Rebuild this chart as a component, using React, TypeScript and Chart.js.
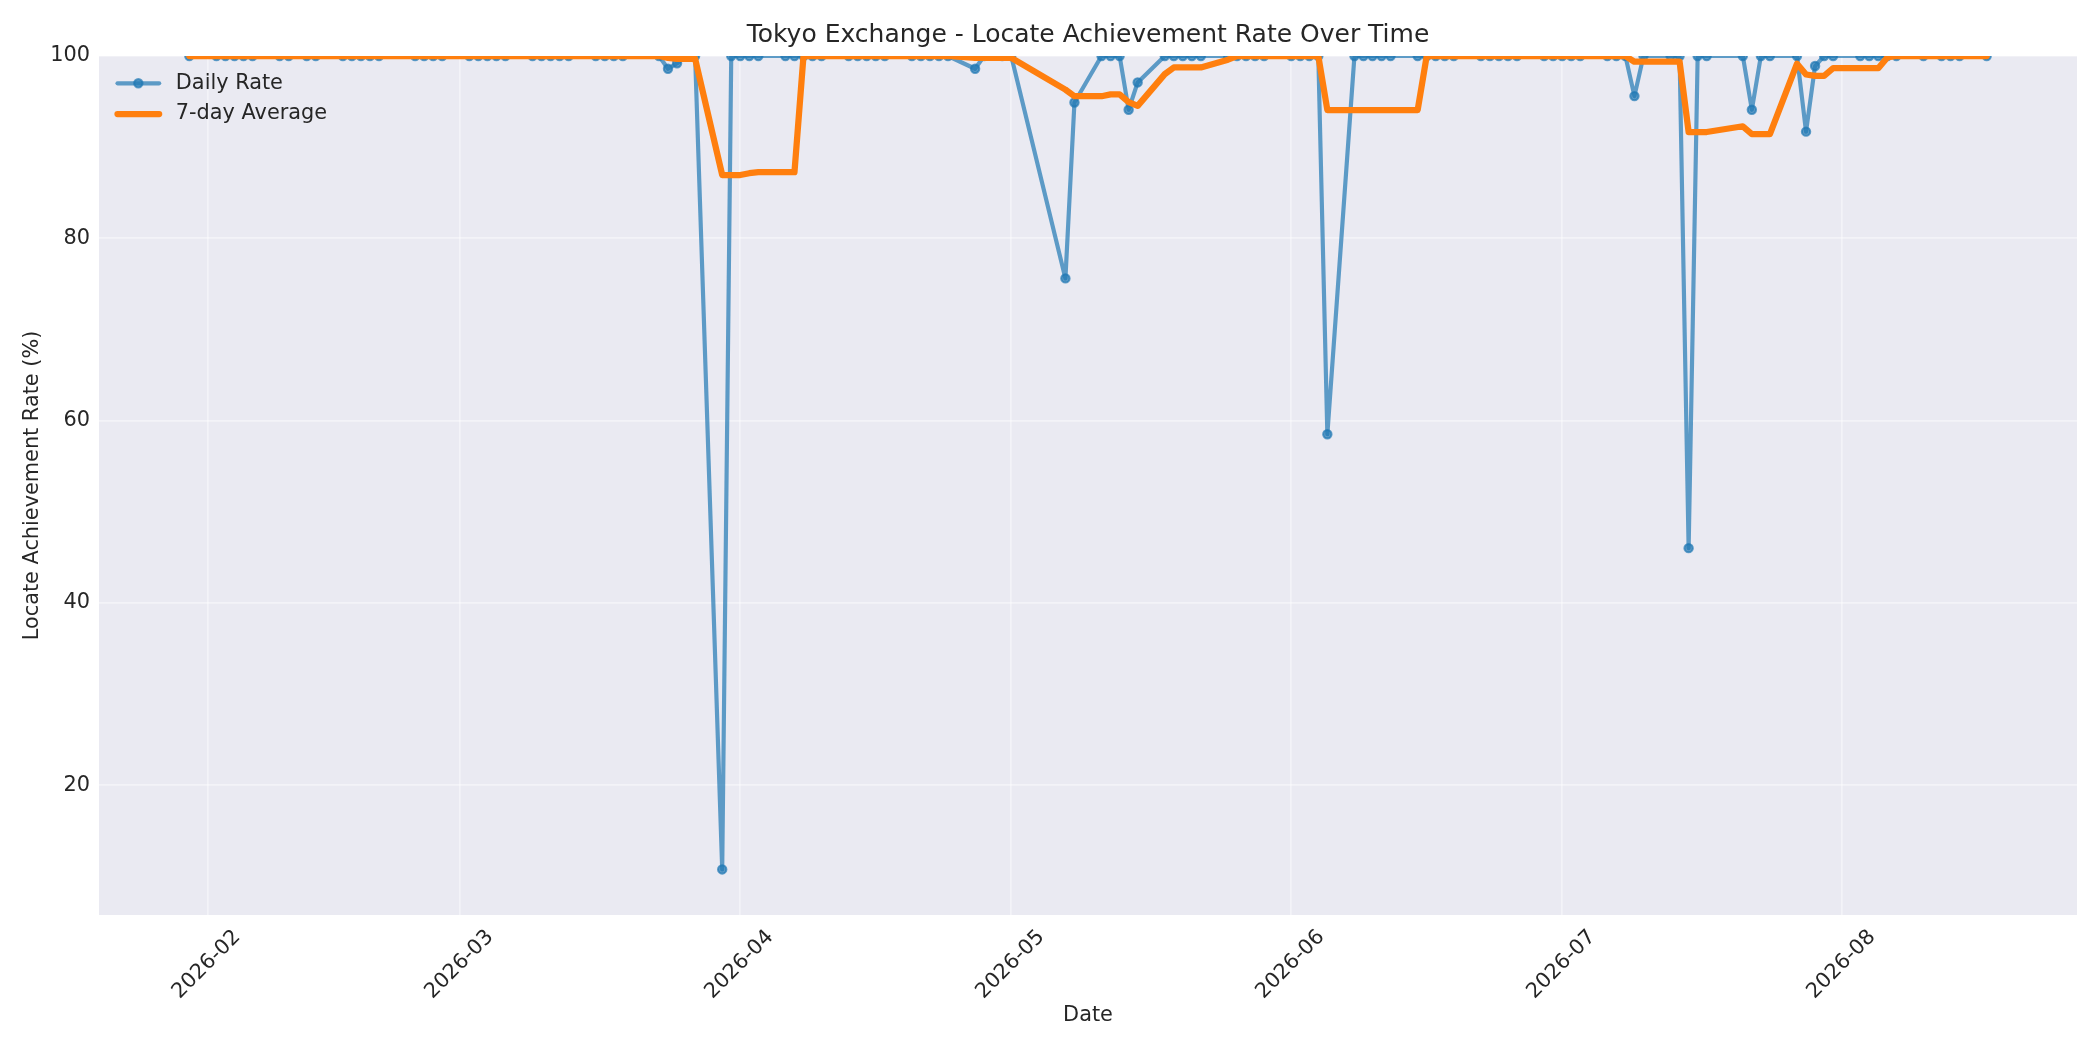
import React, { useEffect, useRef } from "react";
import { Chart, registerables } from "chart.js";

Chart.register(...registerables);

// ---------- texts ----------
const TITLE = "Tokyo Exchange - Locate Achievement Rate Over Time";
const X_TITLE = "Date";
const Y_TITLE = "Locate Achievement Rate (%)";
const SERIES_NAMES = ["Daily Rate", "7-day Average"];

// ---------- data (Japanese trading days) ----------
const DATES = [
  "2026-01-30",
  "2026-02-02", "2026-02-03", "2026-02-04", "2026-02-05", "2026-02-06", "2026-02-09", "2026-02-10", "2026-02-12", "2026-02-13",
  "2026-02-16", "2026-02-17", "2026-02-18", "2026-02-19", "2026-02-20", "2026-02-24", "2026-02-25", "2026-02-26", "2026-02-27",
  "2026-03-02", "2026-03-03", "2026-03-04", "2026-03-05", "2026-03-06", "2026-03-09", "2026-03-10", "2026-03-11", "2026-03-12", "2026-03-13",
  "2026-03-16", "2026-03-17", "2026-03-18", "2026-03-19", "2026-03-23", "2026-03-24", "2026-03-25", "2026-03-26", "2026-03-27", "2026-03-30", "2026-03-31",
  "2026-04-01", "2026-04-02", "2026-04-03", "2026-04-06", "2026-04-07", "2026-04-08", "2026-04-09", "2026-04-10", "2026-04-13", "2026-04-14",
  "2026-04-15", "2026-04-16", "2026-04-17", "2026-04-20", "2026-04-21", "2026-04-22", "2026-04-23", "2026-04-24", "2026-04-27", "2026-04-28", "2026-04-30",
  "2026-05-01", "2026-05-07", "2026-05-08", "2026-05-11", "2026-05-12", "2026-05-13", "2026-05-14", "2026-05-15", "2026-05-18",
  "2026-05-19", "2026-05-20", "2026-05-21", "2026-05-22", "2026-05-25", "2026-05-26", "2026-05-27", "2026-05-28", "2026-05-29",
  "2026-06-01", "2026-06-02", "2026-06-03", "2026-06-04", "2026-06-05", "2026-06-08", "2026-06-09", "2026-06-10", "2026-06-11", "2026-06-12", "2026-06-15",
  "2026-06-16", "2026-06-17", "2026-06-18", "2026-06-19", "2026-06-22", "2026-06-23", "2026-06-24", "2026-06-25", "2026-06-26", "2026-06-29", "2026-06-30",
  "2026-07-01", "2026-07-02", "2026-07-03", "2026-07-06", "2026-07-07", "2026-07-08", "2026-07-09", "2026-07-10", "2026-07-13", "2026-07-14", "2026-07-15",
  "2026-07-16", "2026-07-17", "2026-07-21", "2026-07-22", "2026-07-23", "2026-07-24", "2026-07-27", "2026-07-28", "2026-07-29", "2026-07-30", "2026-07-31",
  "2026-08-03", "2026-08-04", "2026-08-05", "2026-08-06", "2026-08-07", "2026-08-10", "2026-08-12", "2026-08-13", "2026-08-14", "2026-08-17",
];

const DAILY_RATE = [
  100,
  100, 100, 100, 100, 100, 100, 100, 100, 100,
  100, 100, 100, 100, 100, 100, 100, 100, 100,
  100, 100, 100, 100, 100, 100, 100, 100, 100, 100,
  100, 100, 100, 100, 100, 98.6, 99.2, 100, 100, 10.75, 100,
  100, 100, 100, 100, 100, 100, 100, 100, 100, 100,
  100, 100, 100, 100, 100, 100, 100, 100, 98.6, 100, 100,
  100, 75.6, 94.9, 100, 100, 100, 94.1, 97.1, 100,
  100, 100, 100, 100, 100, 100, 100, 100, 100,
  100, 100, 100, 100, 58.5, 100, 100, 100, 100, 100, 100,
  100, 100, 100, 100, 100, 100, 100, 100, 100, 100, 100,
  100, 100, 100, 100, 100, 100, 95.6, 100, 100, 100, 46.0,
  100, 100, 100, 94.1, 100, 100, 100, 91.7, 98.9, 100, 100,
  100, 100, 100, 100, 100, 100, 100, 100, 100, 100,
];

const AVG_7DAY = [
  100,
  100, 100, 100, 100, 100, 100, 100, 100, 100,
  100, 100, 100, 100, 100, 100, 100, 100, 100,
  100, 100, 100, 100, 100, 100, 100, 100, 100, 100,
  100, 100, 100, 100, 100, 99.8, 99.69, 99.69, 99.69, 86.94, 86.94,
  86.94, 87.14, 87.25, 87.25, 87.25, 100, 100, 100, 100, 100,
  100, 100, 100, 100, 100, 100, 100, 100, 99.8, 99.8, 99.8,
  99.8, 96.31, 95.59, 95.59, 95.79, 95.79, 94.94, 94.53, 98.01,
  98.74, 98.74, 98.74, 98.74, 99.59, 100, 100, 100, 100,
  100, 100, 100, 100, 94.07, 94.07, 94.07, 94.07, 94.07, 94.07, 94.07,
  100, 100, 100, 100, 100, 100, 100, 100, 100, 100, 100,
  100, 100, 100, 100, 100, 100, 99.37, 99.37, 99.37, 99.37, 91.66,
  91.66, 91.66, 92.29, 91.44, 91.44, 91.44, 99.16, 97.97, 97.81, 97.81, 98.66,
  98.66, 98.66, 98.66, 99.84, 100, 100, 100, 100, 100, 100,
];

const X_TICK_LABELS = ["2026-02", "2026-03", "2026-04", "2026-05", "2026-06", "2026-07", "2026-08"];
const X_RANGE = ["2026-01-20", "2026-08-27"];
const Y_TICKS = [20, 40, 60, 80, 100];
const Y_RANGE = [5.75, 100];

// ---------- style ----------
const FONT = "DejaVu Sans";
const TEXT = "#262626";
const PT = 150 / 72;
const BLUE = "rgba(31,119,180,0.7)";
const ORANGE = "#ff7f0e";

const toDay = (s: string) => {
  const [y, m, d] = s.split("-").map(Number);
  return Date.UTC(y, m - 1, d || 1) / 86400000;
};

const backgroundPlugin = {
  id: "mplBackground",
  beforeDraw(chart: any) {
    const { ctx, chartArea } = chart;
    ctx.save();
    ctx.fillStyle = "#ffffff";
    ctx.fillRect(0, 0, chart.width, chart.height);
    ctx.fillStyle = "#EAEAF2";
    ctx.fillRect(chartArea.left, chartArea.top, chartArea.right - chartArea.left, chartArea.bottom - chartArea.top);
    ctx.restore();
  },
};

// title centred over the plotting area (as matplotlib does)
const titlePlugin = {
  id: "mplTitle",
  afterDraw(chart: any) {
    const { ctx, chartArea } = chart;
    ctx.save();
    ctx.fillStyle = TEXT;
    ctx.font = `${12 * PT}px "${FONT}"`;
    ctx.textAlign = "center";
    ctx.textBaseline = "middle";
    ctx.fillText(TITLE, (chartArea.left + chartArea.right) / 2, 35.5);
    ctx.restore();
  },
};

const legendPlugin = {
  id: "mplLegend",
  afterDraw(chart: any) {
    const { ctx, chartArea } = chart;
    const fs = 10 * PT;
    const x0 = chartArea.left + 18.5;
    const x1 = x0 + 2 * fs;
    const tx = x1 + 0.8 * fs;
    chart.data.datasets.forEach((ds: any, i: number) => {
      const yy = chartArea.top + 27.3 + i * 30.7;
      ctx.save();
      ctx.lineCap = "round";
      ctx.strokeStyle = ds.borderColor;
      ctx.lineWidth = ds.borderWidth;
      ctx.beginPath();
      ctx.moveTo(x0, yy);
      ctx.lineTo(x1, yy);
      ctx.stroke();
      if (ds.pointRadius > 0) {
        ctx.beginPath();
        ctx.arc((x0 + x1) / 2, yy, ds.pointRadius, 0, Math.PI * 2);
        ctx.fillStyle = ds.pointBackgroundColor;
        ctx.fill();
        ctx.lineWidth = ds.pointBorderWidth;
        ctx.strokeStyle = ds.pointBorderColor;
        ctx.stroke();
      }
      ctx.fillStyle = TEXT;
      ctx.font = `${fs}px "${FONT}"`;
      ctx.textAlign = "left";
      ctx.textBaseline = "middle";
      ctx.fillText(ds.label, tx, yy);
      ctx.restore();
    });
  },
};

export default function App() {
  const ref = useRef<HTMLCanvasElement>(null);

  useEffect(() => {
    document.body.style.margin = "0";
    const canvas = ref.current;
    if (!canvas) return;

    const daily = DATES.map((d, i) => ({ x: toDay(d), y: DAILY_RATE[i] }));
    const avg = DATES.map((d, i) => ({ x: toDay(d), y: AVG_7DAY[i] }));
    const tickFont = { family: FONT, size: 10 * PT };
    const grid = {
      color: "rgba(255,255,255,0.45)",
      lineWidth: 0.8 * PT,
      drawTicks: false,
      tickLength: 0,
    };

    const chart = new Chart(canvas, {
      type: "line",
      data: {
        datasets: [
          {
            label: SERIES_NAMES[0],
            data: daily,
            borderColor: BLUE,
            borderWidth: 2 * PT,
            pointRadius: 2 * PT,
            pointBorderWidth: 1 * PT,
            pointBackgroundColor: BLUE,
            pointBorderColor: BLUE,
            pointHoverRadius: 2 * PT,
            tension: 0,
            borderJoinStyle: "round",
            borderCapStyle: "round",
            clip: 0,
            order: 1,
          },
          {
            label: SERIES_NAMES[1],
            data: avg,
            borderColor: ORANGE,
            borderWidth: 3 * PT,
            pointRadius: 0,
            pointHoverRadius: 0,
            tension: 0,
            borderJoinStyle: "round",
            borderCapStyle: "round",
            clip: 0,
            order: 0,
          },
        ],
      } as any,
      options: {
        responsive: false,
        maintainAspectRatio: false,
        devicePixelRatio: 1,
        animation: false,
        events: [],
        layout: { padding: { left: 0, right: 23, top: 56, bottom: 0 } },
        plugins: {
          legend: { display: false },
          tooltip: { enabled: false },
          title: { display: false },
        },
        scales: {
          x: {
            type: "linear",
            min: toDay(X_RANGE[0]),
            max: toDay(X_RANGE[1]),
            afterBuildTicks: (s: any) => {
              s.ticks = X_TICK_LABELS.map((l) => ({ value: toDay(l + "-01") }));
            },
            afterFit: (s: any) => {
              s.height = 135;
            },
            ticks: {
              autoSkip: false,
              minRotation: 45,
              maxRotation: 45,
              padding: 10,
              labelOffset: 30,
              color: TEXT,
              font: tickFont,
              callback: (_v: any, i: number) => X_TICK_LABELS[i],
            },
            grid,
            border: { display: false },
            title: {
              display: true,
              text: X_TITLE,
              color: TEXT,
              font: { family: FONT, size: 10 * PT, lineHeight: 1.2 },
              padding: { top: 0, bottom: 21.5 },
            },
          },
          y: {
            type: "linear",
            min: Y_RANGE[0],
            max: Y_RANGE[1],
            afterBuildTicks: (s: any) => {
              s.ticks = Y_TICKS.map((v) => ({ value: v }));
            },
            afterFit: (s: any) => {
              s.width = 99;
            },
            ticks: {
              padding: 9,
              color: TEXT,
              font: tickFont,
            },
            grid,
            border: { display: false },
            title: {
              display: true,
              text: Y_TITLE,
              color: TEXT,
              font: { family: FONT, size: 10 * PT, lineHeight: 1.2 },
              padding: { top: 20.5, bottom: 0 },
            },
          },
        },
      } as any,
      plugins: [backgroundPlugin, titlePlugin, legendPlugin],
    });

    return () => chart.destroy();
  }, []);

  return (
    <div style={{ width: 2100, height: 1050 }}>
      <canvas ref={ref} width={2100} height={1050} style={{ display: "block", width: 2100, height: 1050 }} />
    </div>
  );
}
